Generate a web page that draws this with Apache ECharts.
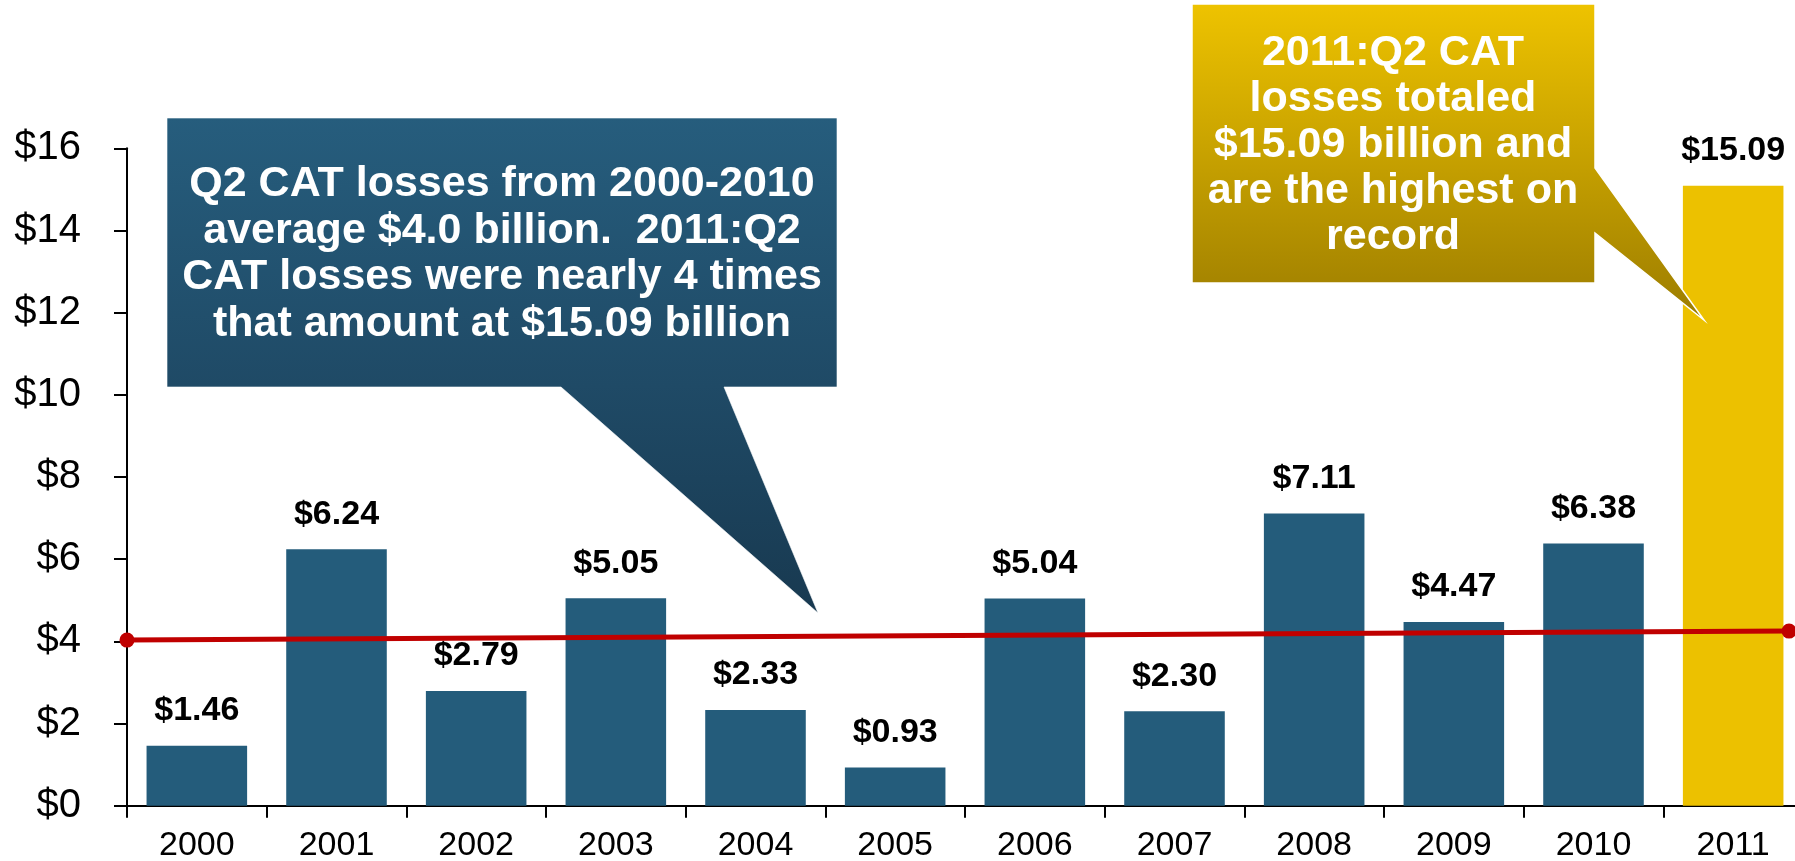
<!DOCTYPE html>
<html>
<head>
<meta charset="utf-8">
<title>Q2 CAT losses 2000-2011</title>
<script src="https://cdn.jsdelivr.net/npm/echarts@6/dist/echarts.min.js"></script>
<style>
  html, body { margin: 0; padding: 0; background: #ffffff; }
  #chart { width: 1795px; height: 861px; }
</style>
</head>
<body>
<div id="chart"></div>
<script>
// Second-quarter catastrophe losses, $ billions
const years = ['2000', '2001', '2002', '2003', '2004', '2005', '2006', '2007', '2008', '2009', '2010', '2011'];
const losses = [1.46, 6.24, 2.79, 5.05, 2.33, 0.93, 5.04, 2.30, 7.11, 4.47, 6.38, 15.09];

// Average reference line, in category units along the axis
const avgLine = [[0, 4.03], [11.9, 4.25]];

// Callout texts
const blueNote = [
  'Q2 CAT losses from 2000-2010',
  'average $4.0 billion.  2011:Q2',
  'CAT losses were nearly 4 times',
  'that amount at $15.09 billion'
];
const goldNote = [
  '2011:Q2 CAT',
  'losses totaled',
  '$15.09 billion and',
  'are the highest on',
  'record'
];

const FONT = '"Liberation Sans", Arial, Helvetica, sans-serif';
const BLUE = '#245C7B';
const GOLD = '#ECC100';
const RED = '#C00000';

const chart = echarts.init(document.getElementById('chart'), null, { renderer: 'canvas' });

const barData = losses.map((v, i) => ({
  value: v,
  itemStyle: { color: i === losses.length - 1 ? GOLD : BLUE }
}));

const option = {
  backgroundColor: '#ffffff',
  animation: false,
  grid: {
    left: 127, top: 148.3, width: 1676, height: 657.4,
    containLabel: false, outerBoundsMode: 'none'
  },
  xAxis: [
    {
      type: 'category',
      data: years,
      boundaryGap: true,
      axisLine: { lineStyle: { color: '#000000', width: 2 } },
      axisTick: { show: true, length: 12, lineStyle: { color: '#000000', width: 2 } },
      axisLabel: { color: '#000000', fontSize: 34, fontFamily: FONT, margin: 23, interval: 0 },
      splitLine: { show: false }
    },
    {
      type: 'value',
      min: 0,
      max: 12,
      show: false
    }
  ],
  yAxis: {
    type: 'value',
    min: 0,
    max: 16,
    interval: 2,
    axisLine: { show: true, lineStyle: { color: '#000000', width: 2 } },
    axisTick: { show: true, length: 13, lineStyle: { color: '#000000', width: 2 } },
    axisLabel: {
      color: '#000000', fontSize: 40, fontFamily: FONT, margin: 46,
      formatter: v => '$' + v
    },
    splitLine: { show: false }
  },
  series: [
    {
      type: 'bar',
      data: barData,
      barWidth: '72%',
      label: {
        show: true,
        position: 'top',
        distance: 18,
        color: '#000000',
        fontSize: 34,
        fontWeight: 'bold',
        fontFamily: FONT,
        formatter: p => '$' + p.value.toFixed(2)
      },
      z: 2
    },
    {
      type: 'line',
      xAxisIndex: 1,
      data: avgLine,
      symbol: 'circle',
      symbolSize: 15,
      lineStyle: { color: RED, width: 5 },
      itemStyle: { color: RED },
      z: 3
    }
  ],
  graphic: [
    {
      type: 'polygon',
      z: 10,
      shape: {
        points: [[167, 118], [837, 118], [837, 387], [724, 387], [818, 613], [561, 387], [167, 387]]
      },
      style: {
        fill: new echarts.graphic.LinearGradient(0, 0, 0, 1, [
          { offset: 0, color: '#265D7D' },
          { offset: 0.54, color: '#1F4A66' },
          { offset: 1, color: '#183950' }
        ]),
        stroke: 'rgba(255,255,255,0.6)',
        lineWidth: 1
      }
    },
    {
      type: 'text',
      z: 11,
      x: 502,
      y: 254,
      style: {
        text: blueNote.join('\n'),
        font: 'bold 43px ' + FONT,
        fill: '#ffffff',
        align: 'center',
        verticalAlign: 'middle',
        lineHeight: 46.5
      }
    },
    {
      type: 'polygon',
      z: 10,
      shape: {
        points: [[1192, 4], [1595, 4], [1595, 168], [1704, 320], [1595, 233], [1595, 283], [1192, 283]]
      },
      style: {
        fill: new echarts.graphic.LinearGradient(0, 0, 0, 1, [
          { offset: 0, color: '#EEC300' },
          { offset: 0.88, color: '#A68500' },
          { offset: 1, color: '#9C7D00' }
        ]),
        stroke: '#ffffff',
        lineWidth: 1.5
      }
    },
    {
      type: 'text',
      z: 11,
      x: 1393,
      y: 145,
      style: {
        text: goldNote.join('\n'),
        font: 'bold 43px ' + FONT,
        fill: '#ffffff',
        align: 'center',
        verticalAlign: 'middle',
        lineHeight: 46
      }
    }
  ]
};

chart.setOption(option);
</script>
</body>
</html>
